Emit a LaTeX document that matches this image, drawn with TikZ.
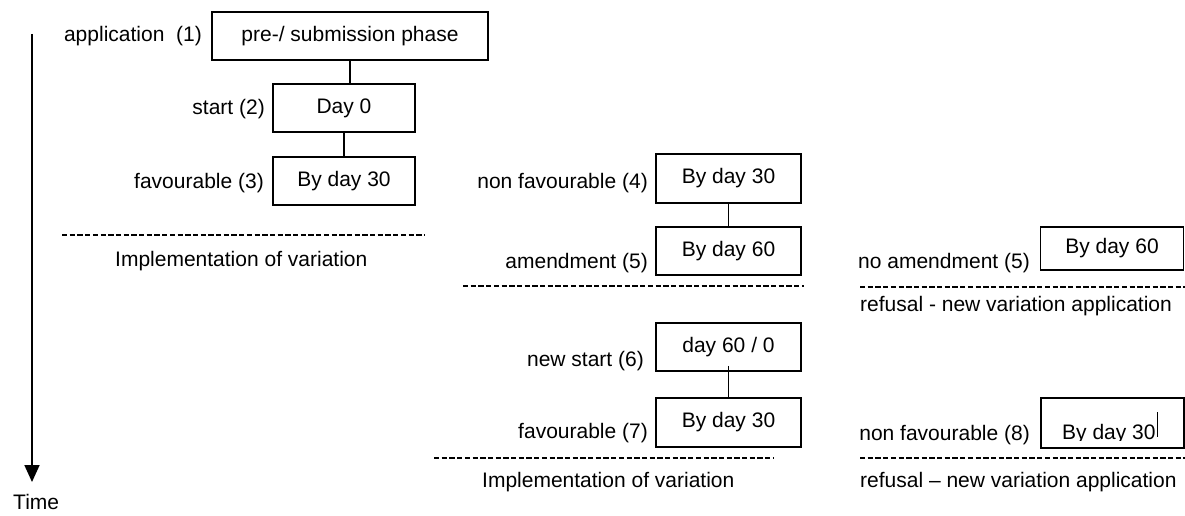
\documentclass[tikz,border=0pt]{standalone}
\usepackage{fontspec}
\setmainfont{Liberation Sans}
\usetikzlibrary{arrows.meta}
\begin{document}
\begin{tikzpicture}[x=1pt,y=-1pt,
  every node/.style={font=\fontsize{21}{25}\selectfont, inner sep=0pt},
  boxs/.style={draw, line width=1.8pt, minimum height=48pt},
  lab/.style={anchor=base east},
  txt/.style={anchor=base west},
  link/.style={line width=1.8pt},
  dashline/.style={line width=1.8pt, dash pattern=on 5.3pt off 2.4pt}]
\useasboundingbox (0,0) rectangle (1185,516);

% time axis
\coordinate (t0) at (32,34);
\coordinate (t1) at (32,482);
\draw[line width=1.8pt, -{Triangle[length=17pt,width=15pt]}] (t0) -- (t1);
\node[txt] (time) at (13,509) {Time};

% left column
\node[boxs, minimum width=276pt, minimum height=48pt] (b1) at (350,36) {\raisebox{-2pt}{pre-/ submission phase}};
\node[lab] (l1) at (202,42) {application\ \ (1)};
\node[boxs, minimum width=142pt] (b2) at (344,108) {Day 0};
\node[lab] (l2) at (265,115) {start (2)};
\node[boxs, minimum width=142pt] (b3) at (344,181) {By day 30};
\node[lab] (l3) at (264,188) {favourable (3)};
\draw[link] (b1.south) -- (b1.south |- b2.north);
\draw[link] (b2.south) -- (b2.south |- b3.north);
\draw[dashline] (62,235) -- (425,235);
\node[txt] (i1) at (115,266) {Implementation of variation};

% middle column
\node[boxs, minimum width=145pt, minimum height=49pt] (b4) at (728.5,178.5) {By day 30};
\node[lab] (l4) at (648,188) {non favourable (4)};
\node[boxs, minimum width=145pt, minimum height=48pt] (b5) at (728.5,251) {By day 60};
\node[lab] (l5) at (648,268) {amendment (5)};
\draw[link] (b4.south) -- (b5.north);
\draw[dashline] (463,286) -- (804,286);

\node[boxs, minimum width=145pt, minimum height=48pt] (b6) at (728.5,347) {day 60 / 0};
\node[lab] (l6) at (644,366) {new start (6)};
\node[boxs, minimum width=145pt, minimum height=49pt] (b7) at (728.5,422.5) {By day 30};
\node[lab] (l7) at (648,438) {favourable (7)};
\draw[link] ([yshift=6pt]b6.south) -- (b7.north);
\draw[dashline] (434,458) -- (774,458);
\node[txt] (i2) at (482,487) {Implementation of variation};

% right column
\node[boxs, minimum width=143pt, minimum height=43pt] (b9) at (1112,248.5) {\raisebox{-2pt}{By day 60}};
\node[lab] (l9) at (1030,268) {no amendment (5)};
\draw[dashline] (860,287) -- (1185,287);
\node[txt] (r1) at (860,311) {refusal - new variation application};

\node[boxs, minimum width=143pt, minimum height=50pt] (b8) at (1112.5,423) {};
\begin{scope}
  \clip (1042,399) rectangle (1183,440);
  \node[txt] (t8) at (1062,439) {By day 30};
\end{scope}
\draw[line width=0.8pt] (1157,412) -- (1157,437);
\node[lab] (l8) at (1030,440) {non favourable (8)};
\draw[dashline] (860,458) -- (1185,458);
\node[txt] (r2) at (860,487) {refusal -- new variation application};
\end{tikzpicture}
\end{document}
